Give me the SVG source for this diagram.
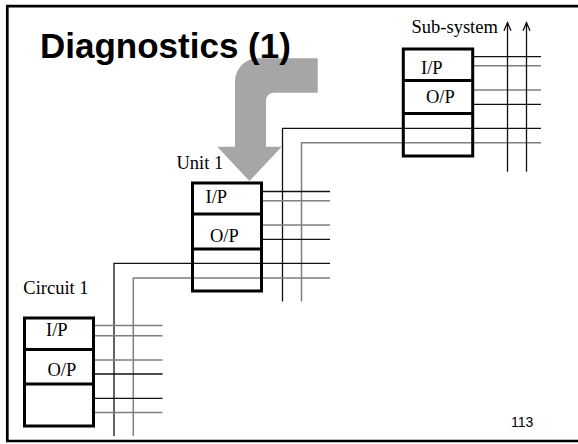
<svg xmlns="http://www.w3.org/2000/svg" width="578" height="444" viewBox="0 0 578 444">
<style>
.box{fill:none;stroke:#000;stroke-width:3}
.div{stroke:#000;stroke-width:3}
.lbl{font-family:"Liberation Serif","Times New Roman",serif;font-size:18.5px;fill:#000}
.k{fill:none;stroke:#111;stroke-width:1.3}
.g{fill:none;stroke:#7f7f7f;stroke-width:1.5}
.ar{fill:none;stroke:#111;stroke-width:1.3;marker-end:url(#chev)}
</style>
<defs>
<marker id="chev" markerUnits="userSpaceOnUse" orient="auto" refX="0" refY="0" markerWidth="10" markerHeight="10" overflow="visible">
<path d="M -8 -3.5 L 0 0 L -8 3.5" fill="none" stroke="#111" stroke-width="1.3"/>
</marker>
</defs>
<rect width="578" height="444" fill="#fff"/>
<path d="M578 6.2 H7.3 V441 H578" fill="none" stroke="#000" stroke-width="2.7"/>
<path id="bigarrow" d="M317.7 58.3 H258 A23 23 0 0 0 235 81.3 V146.7 H217.3 L249.5 181 L281.7 146.7 H266 V100.7 A8 8 0 0 1 274 92.7 H317.7 Z" fill="#a6a6a6"/>
<text x="40" y="58" font-family="'Liberation Sans',Arial,sans-serif" font-weight="bold" font-size="35">Diagnostics (1)</text>
<text x="511" y="426.5" font-family="'Liberation Sans',Arial,sans-serif" font-size="14">113</text>
<g id="connectors">
<path class="k" d="M473 56.7 H541"/>
<path class="g" d="M473 65.7 H541"/>
<path class="g" d="M473 90 H541"/>
<path class="k" d="M473 104.3 H541"/>
<path class="k" d="M541 128.3 H282.5 V301.5"/>
<path class="g" d="M541 142.7 H301.5 V301.5"/>
<path class="ar" d="M507.5 171.7 V22.7"/>
<path class="ar" d="M526.5 171.7 V22.7"/>
<path class="k" d="M261.5 191.5 H330"/>
<path class="g" d="M261.5 200.7 H330"/>
<path class="g" d="M261.5 225 H330"/>
<path class="k" d="M261.5 239.3 H330"/>
<path class="k" d="M330 263.3 H114 V436"/>
<path class="g" d="M330 277.9 H133.3 V436"/>
<path class="g" d="M93.5 325.5 H162.5"/>
<path class="g" d="M93.5 335.7 H162.5"/>
<path class="g" d="M93.5 360 H162.5"/>
<path class="k" d="M93.5 374 H162.5"/>
<path class="k" d="M93.5 398.3 H162.5"/>
<path class="g" d="M93.5 412.5 H162.5"/>
</g>
<g id="subsystem">
<rect class="box" x="403.3" y="49" width="69.4" height="107"/>
<path class="div" d="M403.3 80.5 H472.7 M403.3 113.5 H472.7"/>
<text class="lbl" x="411.5" y="33.3">Sub-system</text>
<text class="lbl" x="421" y="73.5">I/P</text>
<text class="lbl" x="426" y="102.5">O/P</text>
</g>
<g id="unit1">
<rect class="box" x="192.5" y="183" width="69" height="108"/>
<path class="div" d="M192.5 214 H261.5 M192.5 249 H261.5"/>
<text class="lbl" x="176.5" y="169.3">Unit 1</text>
<text class="lbl" x="205.5" y="202.5">I/P</text>
<text class="lbl" x="210" y="242">O/P</text>
</g>
<g id="circuit1">
<rect class="box" x="24.5" y="318" width="69" height="108"/>
<path class="div" d="M24.5 349.5 H93.5 M24.5 384 H93.5"/>
<text class="lbl" x="23.3" y="294">Circuit 1</text>
<text class="lbl" x="46" y="336">I/P</text>
<text class="lbl" x="47.5" y="375.5">O/P</text>
</g>
</svg>
